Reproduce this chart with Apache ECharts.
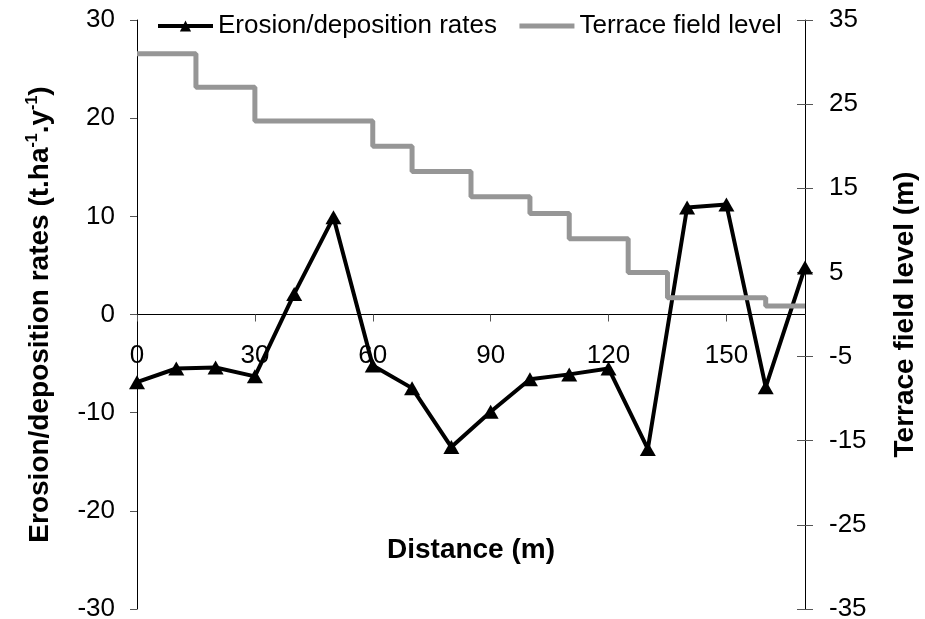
<!DOCTYPE html>
<html>
<head>
<meta charset="utf-8">
<script src="https://cdn.jsdelivr.net/npm/echarts@6/dist/echarts.min.js"></script>
<style>
  html, body { margin: 0; padding: 0; background: #fff; }
  #chart { width: 925px; height: 619px; }
</style>
</head>
<body>
<div id="chart"></div>
<script>
// distance along the slope (m) and measured rates
const distances = [0, 10, 20, 30, 40, 50, 60, 70, 80, 90, 100, 110, 120, 130, 140, 150, 160, 170];
const erosionRates = [-6.9, -5.5, -5.4, -6.3, 2.1, 9.9, -5.2, -7.5, -13.5, -9.9, -6.6, -6.1, -5.5, -13.7, 10.9, 11.2, -7.4, 4.8];

// terrace steps: start of each field and its level
const terraceX = [0, 15, 30, 60, 70, 85, 100, 110, 125, 135, 160, 170];
const terraceLevel = [31, 27, 23, 20, 17, 14, 12, 9, 5, 2, 1, 1];

const rightTicks = [-35, -25, -15, -5, 5, 15, 25, 35];

const font = "'Liberation Sans', Arial, sans-serif";

// x axis sits on the zero line: half the plot height above the bottom
const plotTop = 20, plotBottom = 10, plotHeight = 619 - plotTop - plotBottom;

const chart = echarts.init(document.getElementById("chart"));
chart.setOption({
  animation: false,
  textStyle: { fontFamily: font, color: "#000" },
  grid: { left: 137, right: 120, top: plotTop, bottom: plotBottom, outerBoundsMode: "none", containLabel: false },
  legend: {
    left: 151,
    top: 8,
    itemWidth: 55,
    itemHeight: 14,
    itemGap: 20,
    textStyle: { fontSize: 26, color: "#000", fontFamily: font },
    data: [
      { name: "Erosion/deposition rates", lineStyle: { width: 4, color: "#000" } },
      { name: "Terrace field level", itemStyle: { opacity: 0 }, lineStyle: { width: 5, color: "#969696" } },
    ],
  },
  xAxis: {
    type: "value",
    min: 0,
    max: 170,
    interval: 30,
    position: "bottom",
    offset: -plotHeight / 2,
    name: "Distance (m)",
    nameLocation: "middle",
    nameGap: 222,
    nameTextStyle: { fontSize: 28, fontWeight: "bold", color: "#000" },
    axisLine: { onZero: false, lineStyle: { color: "#000", width: 1 } },
    axisTick: { show: true, length: 7, lineStyle: { color: "#555" } },
    axisLabel: { fontSize: 26, color: "#000", margin: 28, showMaxLabel: false },
    splitLine: { show: false },
  },
  yAxis: [
    {
      type: "value",
      min: -30,
      max: 30,
      interval: 10,
      position: "left",
      name: "Erosion/deposition rates (t.ha{sup|-1}.y{sup|-1})",
      nameLocation: "middle",
      nameRotate: 90,
      nameGap: 82,
      nameTextStyle: {
        fontSize: 28,
        fontWeight: "bold",
        color: "#000",
        rich: {
          sup: { fontSize: 16, fontWeight: "bold", color: "#000", verticalAlign: "top", lineHeight: 30 },
        },
      },
      axisLine: { show: true, onZero: false, lineStyle: { color: "#000", width: 1 } },
      axisTick: { show: true, length: 7, lineStyle: { color: "#555" } },
      axisLabel: { fontSize: 26, color: "#000", margin: 22 },
      splitLine: { show: false },
    },
    {
      type: "value",
      min: -35,
      max: 35,
      position: "right",
      name: "Terrace field level (m)",
      nameLocation: "middle",
      nameRotate: 90,
      nameGap: 86,
      nameTextStyle: { fontSize: 28, fontWeight: "bold", color: "#000" },
      axisLine: { show: true, onZero: false, lineStyle: { color: "#000", width: 1 } },
      axisTick: { show: true, length: 8, customValues: rightTicks, lineStyle: { color: "#555" } },
      axisLabel: { fontSize: 26, color: "#000", margin: 24, customValues: rightTicks },
      splitLine: { show: false },
    },
    {
      // inner half of the right-axis cross ticks
      type: "value",
      min: -35,
      max: 35,
      position: "right",
      axisLine: { show: false, onZero: false },
      axisTick: { show: true, inside: true, length: 8, customValues: rightTicks, lineStyle: { color: "#555" } },
      axisLabel: { show: false },
      splitLine: { show: false },
    },
  ],
  series: [
    {
      name: "Erosion/deposition rates",
      type: "line",
      yAxisIndex: 0,
      data: distances.map((d, i) => [d, erosionRates[i]]),
      symbol: "triangle",
      symbolSize: [16, 14],
      itemStyle: { color: "#000" },
      lineStyle: { color: "#000", width: 4 },
      clip: false,
      z: 2,
    },
    {
      name: "Terrace field level",
      type: "line",
      yAxisIndex: 1,
      step: "end",
      data: terraceX.map((d, i) => [d, terraceLevel[i]]),
      symbol: "none",
      itemStyle: { color: "#969696" },
      lineStyle: { color: "#969696", width: 5 },
      z: 3,
    },
  ],
});
</script>
</body>
</html>
